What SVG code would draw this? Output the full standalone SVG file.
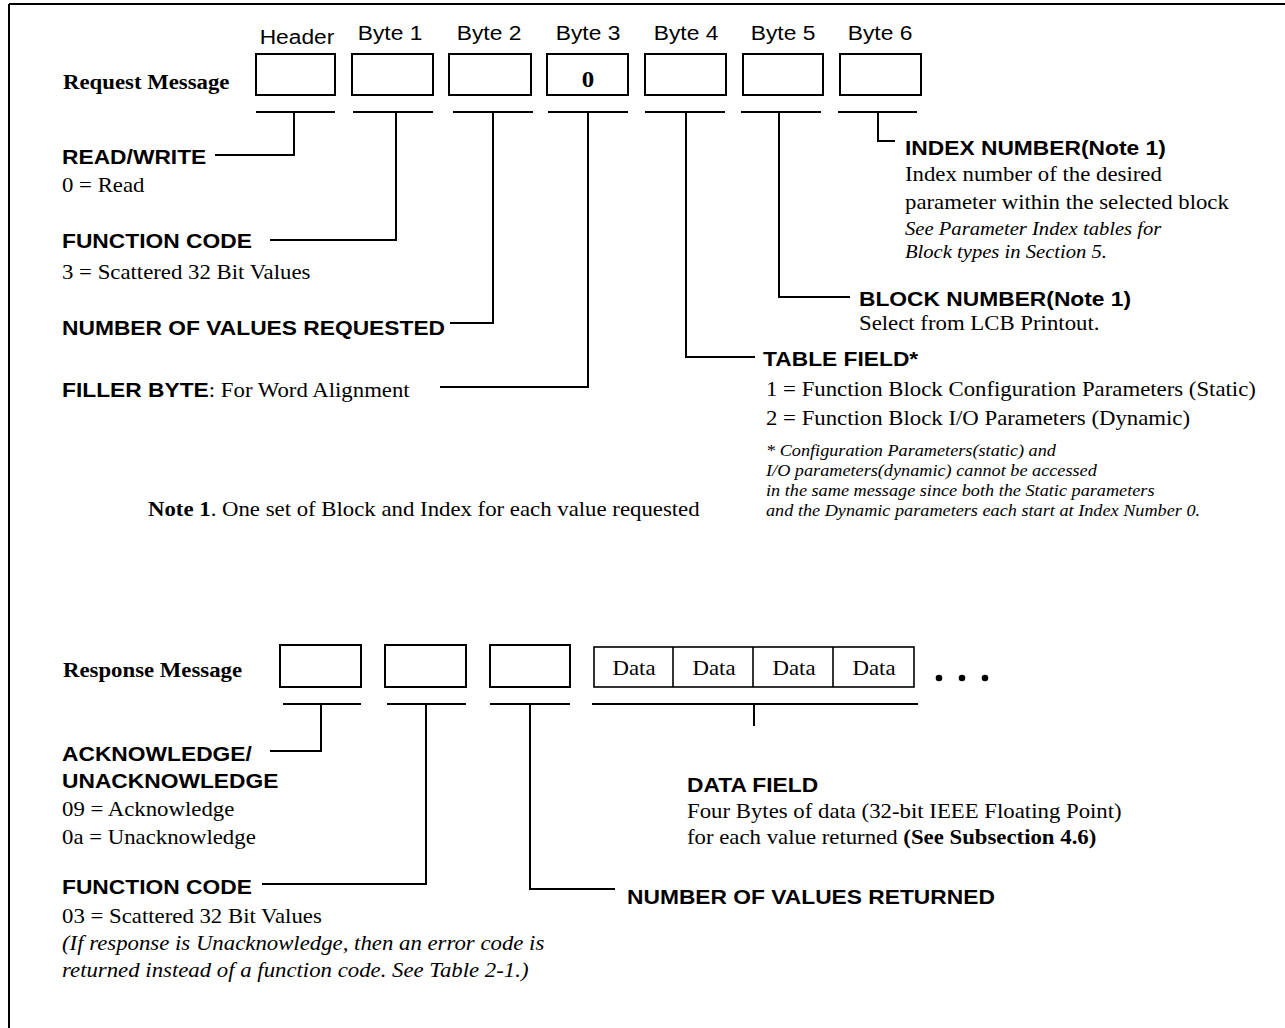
<svg xmlns="http://www.w3.org/2000/svg" width="1285" height="1028" viewBox="0 0 1285 1028">
  <style>
    .lbl { font-family: "Liberation Sans", Arial, sans-serif; font-size: 21px; fill: #000; }
    .hd { font-family: "Liberation Sans", Arial, sans-serif; font-size: 21px; font-weight: bold; fill: #000; }
    .tx { font-family: "Liberation Serif", "Times New Roman", serif; font-size: 21px; fill: #000; }
    .ti { font-family: "Liberation Serif", "Times New Roman", serif; font-size: 21px; font-style: italic; fill: #000; }
    .ti19 { font-family: "Liberation Serif", "Times New Roman", serif; font-size: 19px; font-style: italic; fill: #000; }
    .sm { font-family: "Liberation Serif", "Times New Roman", serif; font-size: 16.8px; font-style: italic; fill: #000; }
    .tb { font-family: "Liberation Serif", "Times New Roman", serif; font-size: 21px; font-weight: bold; fill: #000; }
    .box { fill: #fff; stroke: #000; stroke-width: 2; }
    .dbox { fill: #fff; stroke: #000; stroke-width: 1.6; }
    .ln { fill: none; stroke: #000; stroke-width: 2; }
  </style>

  <rect width="1285" height="1028" fill="#fff"/>

  <!-- page frame -->
  <g id="frame">
    <line class="ln" x1="9" y1="4" x2="1285" y2="4"/>
    <line class="ln" x1="9" y1="4" x2="9" y2="1028"/>
  </g>

  <!-- request message (all text set slightly wide: matrix(1.085 0 0 1 x y)) -->
  <g id="request-title"><text class="tb" transform="matrix(1.085 0 0 1 63 89)">Request Message</text></g>

  <g id="req-header">
    <text class="lbl" text-anchor="middle" transform="matrix(1.085 0 0 1 297 44)">Header</text>
    <rect class="box" x="256" y="54" width="79" height="41"/>
  </g>
  <g id="req-byte1">
    <text class="lbl" text-anchor="middle" transform="matrix(1.085 0 0 1 390 40)">Byte 1</text>
    <rect class="box" x="352" y="54" width="81" height="41"/>
  </g>
  <g id="req-byte2">
    <text class="lbl" text-anchor="middle" transform="matrix(1.085 0 0 1 489 40)">Byte 2</text>
    <rect class="box" x="449" y="54" width="82" height="41"/>
  </g>
  <g id="req-byte3">
    <text class="lbl" text-anchor="middle" transform="matrix(1.085 0 0 1 588 40)">Byte 3</text>
    <rect class="box" x="547" y="54" width="81" height="41"/>
    <text class="tb" text-anchor="middle" transform="matrix(1.085 0 0 1 588 87)" style="font-size:23px">0</text>
  </g>
  <g id="req-byte4">
    <text class="lbl" text-anchor="middle" transform="matrix(1.085 0 0 1 686 40)">Byte 4</text>
    <rect class="box" x="645" y="54" width="81" height="41"/>
  </g>
  <g id="req-byte5">
    <text class="lbl" text-anchor="middle" transform="matrix(1.085 0 0 1 783 40)">Byte 5</text>
    <rect class="box" x="743" y="54" width="80" height="41"/>
  </g>
  <g id="req-byte6">
    <text class="lbl" text-anchor="middle" transform="matrix(1.085 0 0 1 880 40)">Byte 6</text>
    <rect class="box" x="840" y="54" width="81" height="41"/>
  </g>

  <g id="read-write">
    <text class="hd" transform="matrix(1.085 0 0 1 62 164)">READ/WRITE</text>
    <text class="tx" transform="matrix(1.085 0 0 1 62 192)">0 = Read</text>
  </g>
  <g id="req-function-code">
    <text class="hd" transform="matrix(1.085 0 0 1 62 248)">FUNCTION CODE</text>
    <text class="tx" transform="matrix(1.085 0 0 1 62 279)">3 = Scattered 32 Bit Values</text>
  </g>
  <g id="values-requested">
    <text class="hd" transform="matrix(1.085 0 0 1 62 335)">NUMBER OF VALUES REQUESTED</text>
  </g>
  <g id="filler-byte">
    <text class="tx" transform="matrix(1.085 0 0 1 62 397)"><tspan class="hd">FILLER BYTE</tspan>: For Word Alignment</text>
  </g>
  <g id="index-number">
    <text class="hd" transform="matrix(1.085 0 0 1 905 155)">INDEX NUMBER(Note 1)</text>
    <text class="tx" transform="matrix(1.085 0 0 1 905 181)">Index number of the desired</text>
    <text class="tx" transform="matrix(1.085 0 0 1 905 209)">parameter within the selected block</text>
    <text class="ti19" transform="matrix(1.085 0 0 1 905 235)">See Parameter Index tables for</text>
    <text class="ti19" transform="matrix(1.085 0 0 1 905 258)">Block types in Section 5.</text>
  </g>
  <g id="block-number">
    <text class="hd" transform="matrix(1.085 0 0 1 859 306)">BLOCK NUMBER(Note 1)</text>
    <text class="tx" transform="matrix(1.085 0 0 1 859 330)">Select from LCB Printout.</text>
  </g>
  <g id="table-field">
    <text class="hd" transform="matrix(1.085 0 0 1 763 366)">TABLE FIELD*</text>
    <text class="tx" transform="matrix(1.085 0 0 1 766 396)">1 = Function Block Configuration Parameters (Static)</text>
    <text class="tx" transform="matrix(1.085 0 0 1 766 425)">2 = Function Block I/O Parameters (Dynamic)</text>
    <text class="sm" transform="matrix(1.085 0 0 1 766 456)">* Configuration Parameters(static) and</text>
    <text class="sm" transform="matrix(1.085 0 0 1 766 476)">I/O parameters(dynamic) cannot be accessed</text>
    <text class="sm" transform="matrix(1.085 0 0 1 766 496)">in the same message since both the Static parameters</text>
    <text class="sm" transform="matrix(1.085 0 0 1 766 516)">and the Dynamic parameters each start at Index Number 0.</text>
  </g>
  <g id="note-1">
    <text class="tx" transform="matrix(1.085 0 0 1 148 516)"><tspan class="tb">Note 1</tspan>. One set of Block and Index for each value requested</text>
  </g>

  <!-- response message -->
  <g id="response-title"><text class="tb" transform="matrix(1.085 0 0 1 63 677)">Response Message</text></g>
  <g id="resp-ack-box"><rect class="box" x="280" y="645" width="81" height="42"/></g>
  <g id="resp-func-box"><rect class="box" x="385" y="645" width="81" height="42"/></g>
  <g id="resp-count-box"><rect class="box" x="490" y="645" width="80" height="42"/></g>
  <g id="resp-data">
    <rect class="dbox" x="594" y="647" width="320" height="40"/>
    <line class="dbox" x1="673" y1="647" x2="673" y2="687"/>
    <line class="dbox" x1="753" y1="647" x2="753" y2="687"/>
    <line class="dbox" x1="833" y1="647" x2="833" y2="687"/>
    <text class="tx" text-anchor="middle" transform="matrix(1.085 0 0 1 634 675)">Data</text>
    <text class="tx" text-anchor="middle" transform="matrix(1.085 0 0 1 714 675)">Data</text>
    <text class="tx" text-anchor="middle" transform="matrix(1.085 0 0 1 794 675)">Data</text>
    <text class="tx" text-anchor="middle" transform="matrix(1.085 0 0 1 874 675)">Data</text>
  </g>
  <g id="resp-more">
    <circle cx="939" cy="678" r="3.3"/>
    <circle cx="962" cy="678" r="3.3"/>
    <circle cx="985" cy="678" r="3.3"/>
  </g>

  <g id="data-field">
    <text class="hd" transform="matrix(1.085 0 0 1 687 792)">DATA FIELD</text>
    <text class="tx" transform="matrix(1.085 0 0 1 687 818)">Four Bytes of data (32-bit IEEE Floating Point)</text>
    <text class="tx" transform="matrix(1.085 0 0 1 687 844)">for each value returned <tspan class="tb">(See Subsection 4.6)</tspan></text>
  </g>
  <g id="acknowledge">
    <text class="hd" transform="matrix(1.085 0 0 1 62 761)">ACKNOWLEDGE/</text>
    <text class="hd" transform="matrix(1.085 0 0 1 62 788)">UNACKNOWLEDGE</text>
    <text class="tx" transform="matrix(1.085 0 0 1 62 816)">09 = Acknowledge</text>
    <text class="tx" transform="matrix(1.085 0 0 1 62 844)">0a = Unacknowledge</text>
  </g>
  <g id="resp-function-code">
    <text class="hd" transform="matrix(1.085 0 0 1 62 894)">FUNCTION CODE</text>
    <text class="tx" transform="matrix(1.085 0 0 1 62 923)">03 = Scattered 32 Bit Values</text>
    <text class="ti" transform="matrix(1.085 0 0 1 62 950)">(If response is Unacknowledge, then an error code is</text>
    <text class="ti" transform="matrix(1.085 0 0 1 62 977)">returned instead of a function code. See Table 2-1.)</text>
  </g>
  <g id="values-returned">
    <text class="hd" transform="matrix(1.085 0 0 1 627 904)">NUMBER OF VALUES RETURNED</text>
  </g>

  <!-- connectors: bracket under each field, leader to its description -->
  <g id="connectors">
    <line class="ln" x1="256" y1="112" x2="335" y2="112"/>
    <line class="ln" x1="353" y1="112" x2="433" y2="112"/>
    <line class="ln" x1="453" y1="112" x2="533" y2="112"/>
    <line class="ln" x1="548" y1="112" x2="628" y2="112"/>
    <line class="ln" x1="645" y1="112" x2="725" y2="112"/>
    <line class="ln" x1="741" y1="112" x2="821" y2="112"/>
    <line class="ln" x1="838" y1="112" x2="917" y2="112"/>

    <polyline class="ln" points="294,112 294,155 215,155"/>
    <polyline class="ln" points="396,112 396,240 270,240"/>
    <polyline class="ln" points="493,112 493,323 450,323"/>
    <polyline class="ln" points="588,112 588,387 440,387"/>
    <polyline class="ln" points="686,112 686,357 755,357"/>
    <polyline class="ln" points="779,112 779,297 850,297"/>
    <polyline class="ln" points="878,112 878,141 895,141"/>

    <line class="ln" x1="283" y1="704" x2="361" y2="704"/>
    <line class="ln" x1="387" y1="704" x2="466" y2="704"/>
    <line class="ln" x1="490" y1="704" x2="570" y2="704"/>
    <line class="ln" x1="592" y1="704" x2="918" y2="704"/>

    <polyline class="ln" points="321,704 321,751 270,751"/>
    <polyline class="ln" points="426,704 426,884 262,884"/>
    <polyline class="ln" points="530,704 530,889 615,889"/>
    <line class="ln" x1="754" y1="704" x2="754" y2="726"/>
  </g>
</svg>
